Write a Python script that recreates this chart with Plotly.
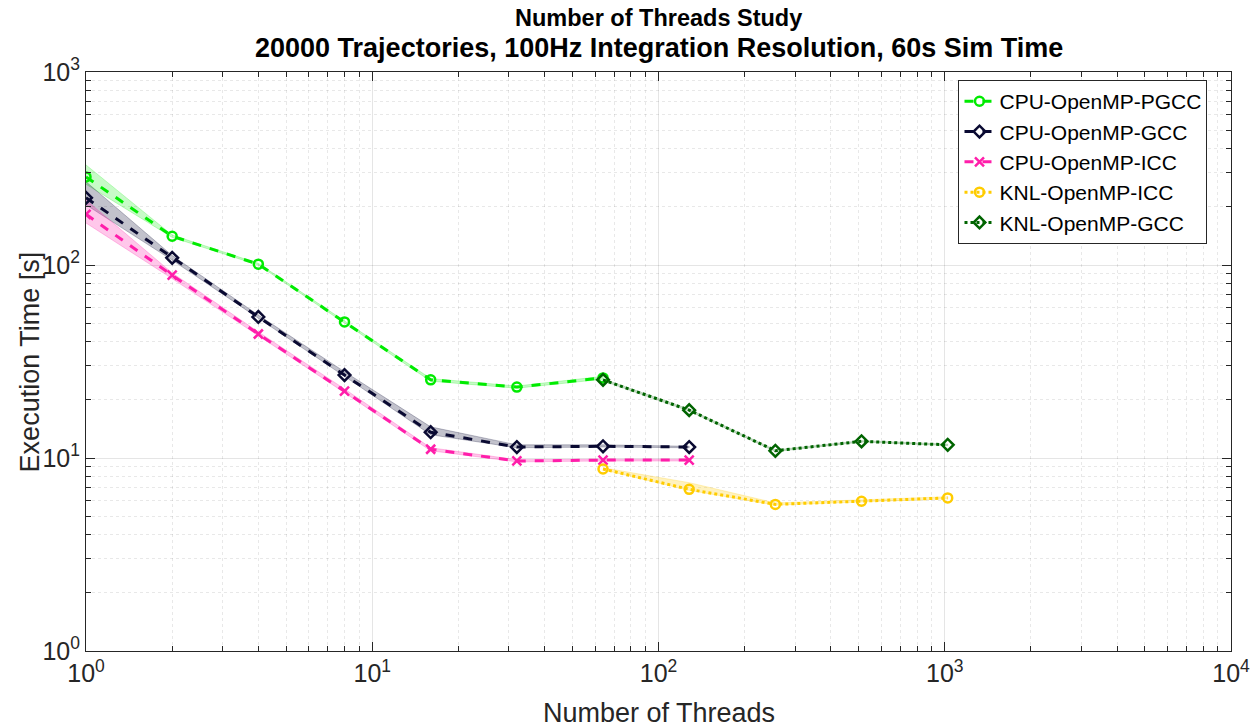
import plotly.graph_objects as go

# ---------------- data ----------------
cpu_threads = [1, 2, 4, 8, 16, 32, 64]
cpu_threads_128 = [1, 2, 4, 8, 16, 32, 64, 128]
knl_threads = [64, 128, 256, 512, 1024]

pgcc_mean = [286, 141, 101, 50.7, 25.4, 23.3, 26.0]
pgcc_upper = [330, 143, 102, 51.5, 25.8, 23.6, 26.5]
pgcc_lower = [262, 139, 100, 50.0, 25.0, 23.0, 25.6]

gcc_mean = [223, 109, 53.8, 26.9, 13.6, 11.4, 11.5, 11.4]
gcc_upper = [270, 112, 55.0, 28.0, 14.5, 11.7, 11.7, 11.5]
gcc_lower = [205, 106, 53.0, 26.5, 13.2, 11.3, 11.4, 11.3]

icc_mean = [183, 88.5, 43.9, 22.2, 11.1, 9.65, 9.75, 9.75]
icc_upper = [217, 91, 45.0, 22.8, 11.3, 9.8, 9.85, 9.85]
icc_lower = [165, 85, 43.0, 21.8, 10.9, 9.55, 9.65, 9.65]

knl_icc_mean = [8.77, 6.88, 5.75, 5.97, 6.21]
knl_icc_upper = [8.9, 7.45, 5.85, 6.05, 6.3]
knl_icc_lower = [8.7, 6.8, 5.7, 5.9, 6.15]

knl_gcc_mean = [25.4, 17.7, 10.9, 12.2, 11.7]
knl_gcc_upper = [25.7, 17.9, 11.0, 12.3, 11.8]
knl_gcc_lower = [25.1, 17.5, 10.8, 12.1, 11.6]

x_tick_vals = [1, 10, 100, 1000, 10000]
x_tick_text = ["10<sup>0</sup>", "10<sup>1</sup>", "10<sup>2</sup>", "10<sup>3</sup>", "10<sup>4</sup>"]
y_tick_vals = [1, 10, 100, 1000]
y_tick_text = ["10<sup>0</sup>", "10<sup>1</sup>", "10<sup>2</sup>", "10<sup>3</sup>"]
x_minor_vals = [m * 10 ** d for d in range(4) for m in range(2, 10)]
y_minor_vals = [m * 10 ** d for d in range(3) for m in range(2, 10)]

title_line1 = "Number of Threads Study"
title_line2 = "20000 Trajectories, 100Hz Integration Resolution, 60s Sim Time"
x_title = "Number of Threads"
y_title = "Execution Time [s]"

series = [
    ("CPU-OpenMP-PGCC", cpu_threads, pgcc_mean, pgcc_upper, pgcc_lower,
     "rgb(0,235,0)", "rgba(0,235,0,0.22)", "dash", "circle-open"),
    ("CPU-OpenMP-GCC", cpu_threads_128, gcc_mean, gcc_upper, gcc_lower,
     "rgb(10,10,50)", "rgba(10,10,50,0.25)", "dash", "diamond-open"),
    ("CPU-OpenMP-ICC", cpu_threads_128, icc_mean, icc_upper, icc_lower,
     "rgb(255,30,170)", "rgba(255,30,170,0.25)", "dash", "x-thin-open"),
    ("KNL-OpenMP-ICC", knl_threads, knl_icc_mean, knl_icc_upper, knl_icc_lower,
     "rgb(255,204,0)", "rgba(255,204,0,0.25)", "dot", "circle-open"),
    ("KNL-OpenMP-GCC", knl_threads, knl_gcc_mean, knl_gcc_upper, knl_gcc_lower,
     "rgb(0,100,0)", "rgba(0,100,0,0.2)", "dot", "diamond-open"),
]

fig = go.Figure()

for name, x, m, up, lo, col, fcol, dash, sym in series:
    fig.add_trace(go.Scatter(
        x=list(x) + list(x)[::-1], y=list(up) + list(lo)[::-1],
        fill="toself", fillcolor=fcol, mode="lines",
        line=dict(color=fcol, width=1), hoverinfo="skip", showlegend=False))

for name, x, m, up, lo, col, fcol, dash, sym in series:
    fig.add_trace(go.Scatter(
        x=x, y=m, name=name, mode="lines+markers",
        line=dict(color=col, width=3, dash=dash),
        marker=dict(symbol=sym, size=9, color=col, line=dict(color=col, width=2.5))))

axis_common = dict(
    type="log", showline=True, linecolor="#262626", linewidth=1, mirror="allticks",
    ticks="inside", ticklen=9, tickcolor="#262626", tickmode="array",
    showgrid=True, gridcolor="rgba(0,0,0,0.1)", gridwidth=1, zeroline=False,
    automargin=False,
    tickfont=dict(family="Liberation Sans", size=25, color="#262626"),
)
minor_common = dict(ticks="inside", ticklen=5, tickcolor="#262626", showgrid=True,
                    gridcolor="rgba(0,0,0,0.09)", griddash="dot", gridwidth=1)

fig.update_layout(
    width=1256, height=727,
    margin=dict(l=86, r=25, t=72, b=76),
    plot_bgcolor="white", paper_bgcolor="white",
    xaxis=dict(axis_common, range=[0, 4], tickvals=x_tick_vals, ticktext=x_tick_text,
               minor=dict(minor_common, tickvals=x_minor_vals)),
    yaxis=dict(axis_common, range=[0, 3], tickvals=y_tick_vals, ticktext=y_tick_text,
               minor=dict(minor_common, tickvals=y_minor_vals)),
    legend=dict(x=0.762, y=0.986, xanchor="left", yanchor="top",
                bgcolor="white", bordercolor="#262626", borderwidth=1,
                font=dict(family="Liberation Sans", size=21, color="black"),
                itemwidth=30, tracegroupgap=0),
    showlegend=True,
    annotations=[
        dict(text="<b>" + title_line1 + "</b>", x=0.5, y=1.093, xref="paper", yref="paper",
             xanchor="center", yanchor="middle", showarrow=False,
             font=dict(family="Liberation Sans", size=23.5, color="black")),
        dict(text="<b>" + title_line2 + "</b>", x=0.5, y=1.041, xref="paper", yref="paper",
             xanchor="center", yanchor="middle", showarrow=False,
             font=dict(family="Liberation Sans", size=27, color="black")),
        dict(text=x_title, x=0.5, y=-0.107, xref="paper", yref="paper",
             xanchor="center", yanchor="middle", showarrow=False,
             font=dict(family="Liberation Sans", size=27, color="#262626")),
        dict(text=y_title, x=-0.049, y=0.5, xref="paper", yref="paper", textangle=-90,
             xanchor="center", yanchor="middle", showarrow=False,
             font=dict(family="Liberation Sans", size=27, color="#262626")),
    ],
)

fig.write_html("out.html", config={"displayModeBar": False},
               post_script="document.body.style.margin='0px';")
